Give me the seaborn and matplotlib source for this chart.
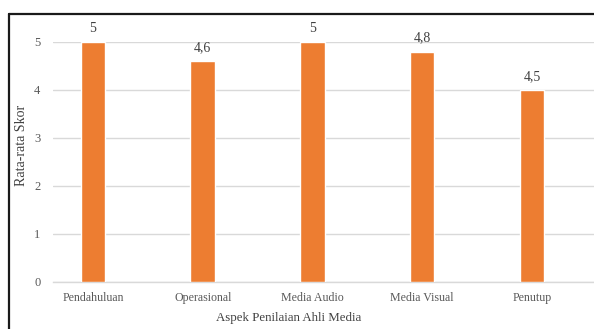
import matplotlib
matplotlib.use("Agg")
import matplotlib.pyplot as plt
import seaborn as sns
import pandas as pd
from matplotlib.lines import Line2D

categories = ["Pendahuluan", "Operasional", "Media Audio", "Media Visual", "Penutup"]
values = [5, 4.6, 5, 4.8, 4.0]
value_labels = ["5", "4,6", "5", "4,8", "4,5"]
yticks = [0, 1, 2, 3, 4, 5]

sns.set_style("white")
plt.rcParams['font.family'] = ['Liberation Serif', 'DejaVu Serif']

df = pd.DataFrame({"Aspek": categories, "Skor": values})

W, H = 594, 329
fig = plt.figure(figsize=(W / 100, H / 100), dpi=100)
ax = fig.add_axes([53 / W, (H - 282) / H, (594 - 53) / W, (282 - 42) / H])

sns.barplot(data=df, x="Aspek", y="Skor", color="#ED7D31", saturation=1,
            width=0.223, ax=ax, zorder=3)

ax.set_ylim(0, 5)
ax.set_xlim(-0.364, 4.565)
ax.set_yticks(yticks)
ax.set_yticklabels([str(t) for t in yticks])
ax.grid(axis="y", color="#d9d9d9", linewidth=1.0, zorder=0)
ax.grid(axis="x", visible=False)
for s in ["top", "right", "left"]:
    ax.spines[s].set_visible(False)
ax.spines["bottom"].set_color("#d9d9d9")
ax.spines["bottom"].set_linewidth(1.0)
ax.tick_params(axis="both", length=0, colors="#595959", labelsize=8.6)
ax.tick_params(axis="y", pad=9, labelsize=9)
ax.tick_params(axis="x", pad=7)

for i, (v, lab) in enumerate(zip(values, value_labels)):
    ax.annotate(lab, xy=(i, v), xytext=(0, 5), textcoords="offset points",
                ha="center", va="bottom", fontsize=10, color="#404040",
                annotation_clip=False)

ax.set_xlabel("Aspek Penilaian Ahli Media", fontsize=9.3, color="#404040")
ax.set_ylabel("Rata-rata Skor", fontsize=10, color="#404040")
ax.xaxis.set_label_coords((289 - 53) / 541, (282 - 312) / 240)
ax.yaxis.set_label_coords((28 - 53) / 541, (282 - 145) / 240)

# outer border (top and left visible)
fig.add_artist(Line2D([8.5 / W, 1.0], [(H - 13.5) / H, (H - 13.5) / H],
                      transform=fig.transFigure, color="#1a1a1a", linewidth=1.6))
fig.add_artist(Line2D([8.5 / W, 8.5 / W], [0, (H - 13.5) / H],
                      transform=fig.transFigure, color="#1a1a1a", linewidth=1.6))

fig.savefig("out.png", dpi=100)
